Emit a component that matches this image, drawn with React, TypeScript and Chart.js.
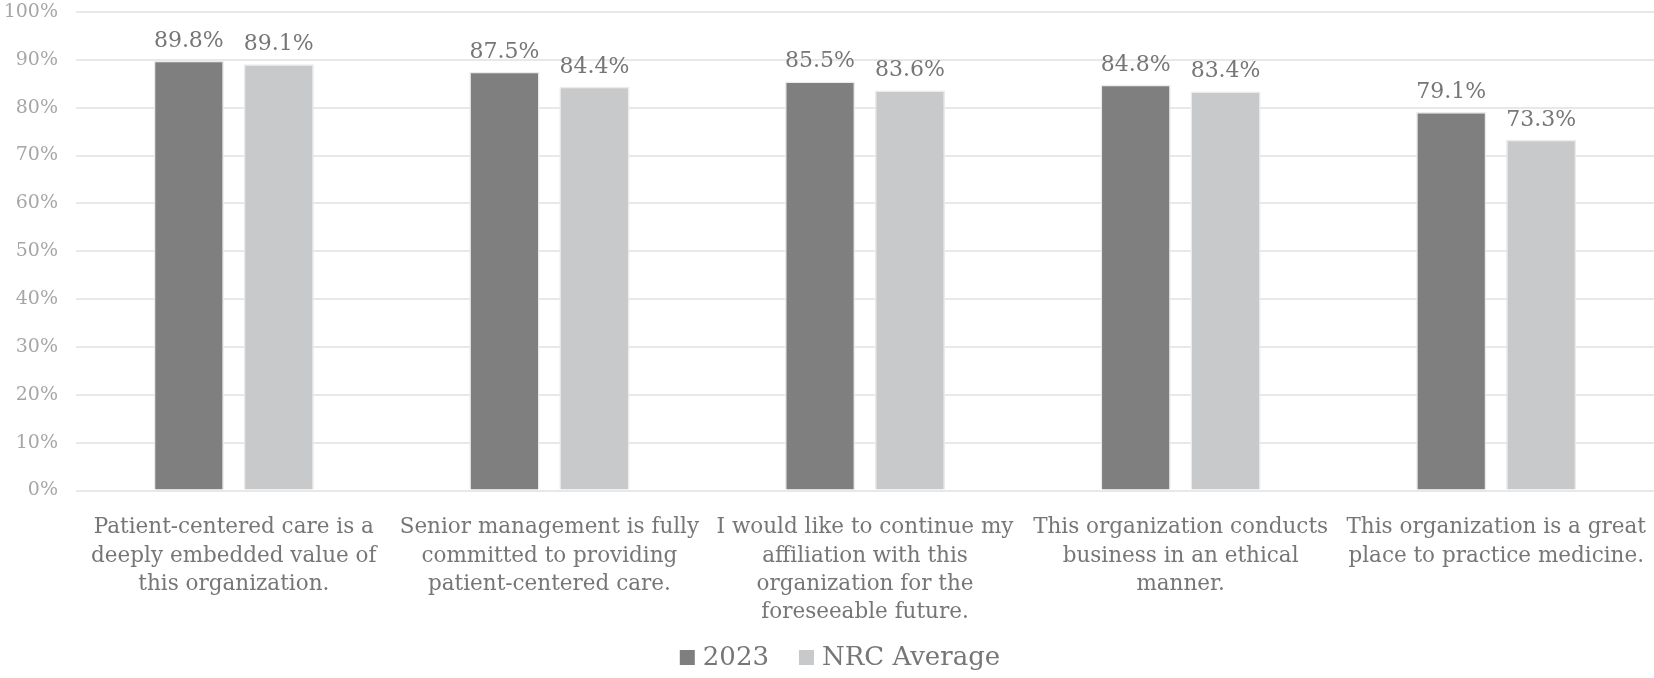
import React, { useEffect, useRef } from "react";
import { Chart, registerables } from "chart.js";

Chart.register(...registerables);

const categories: string[][] = [
  ["Patient-centered care is a", "deeply embedded value of", "this organization."],
  ["Senior management is fully", "committed to providing", "patient-centered care."],
  ["I would like to continue my", "affiliation with this", "organization for the", "foreseeable future."],
  ["This organization conducts", "business in an ethical", "manner."],
  ["This organization is a great", "place to practice medicine."],
];
const values2023: number[] = [89.8, 87.5, 85.5, 84.8, 79.1];
const valuesNRC: number[] = [89.1, 84.4, 83.6, 83.4, 73.3];
const seriesNames: string[] = ["2023", "NRC Average"];
const seriesColors: string[] = ["#7f7f7f", "#c8c9ca"];
const yTicks: number[] = [0, 10, 20, 30, 40, 50, 60, 70, 80, 90, 100];

const FONT = "'DejaVu Serif', 'Liberation Serif', serif";
const TEXT = "#767676";

const dataLabelPlugin = {
  id: "dataLabels",
  afterDatasetsDraw(chart: any) {
    const ctx = chart.ctx;
    ctx.save();
    ctx.font = `22px ${FONT}`;
    ctx.fillStyle = TEXT;
    ctx.textAlign = "center";
    ctx.textBaseline = "alphabetic";
    chart.data.datasets.forEach((ds: any, i: number) => {
      const meta = chart.getDatasetMeta(i);
      meta.data.forEach((bar: any, j: number) => {
        ctx.fillText(ds.data[j].toFixed(1) + "%", bar.x, bar.y - 14);
      });
    });
    ctx.restore();
  },
};

const legendPlugin = {
  id: "customLegend",
  afterDraw(chart: any) {
    const ctx = chart.ctx;
    ctx.save();
    ctx.font = `26px ${FONT}`;
    const box = 15;
    const gap = 8;
    const itemGap = 30;
    const items = chart.data.datasets.map((ds: any) => ({
      label: ds.label,
      color: ds.backgroundColor,
      w: ctx.measureText(ds.label).width,
    }));
    const total =
      items.reduce((s: number, it: any) => s + box + gap + it.w, 0) + itemGap * (items.length - 1);
    let x = chart.width / 2 + 13 - total / 2;
    const baseline = 665;
    items.forEach((it: any) => {
      ctx.fillStyle = it.color;
      ctx.fillRect(x, baseline - box, box, box);
      x += box + gap;
      ctx.fillStyle = TEXT;
      ctx.textAlign = "left";
      ctx.textBaseline = "alphabetic";
      ctx.fillText(it.label, x, baseline);
      x += it.w + itemGap;
    });
    ctx.restore();
  },
};

export default function App() {
  const ref = useRef<HTMLCanvasElement>(null);
  useEffect(() => {
    document.body.style.margin = "0";
    const chart = new Chart(ref.current!, {
      type: "bar",
      data: {
        labels: categories,
        datasets: [0, 1].map((i) => ({
          label: seriesNames[i],
          data: i === 0 ? values2023 : valuesNRC,
          backgroundColor: seriesColors[i],
          borderColor: "#ebebeb",
          borderWidth: 1.5,
          categoryPercentage: 0.57,
          barPercentage: 0.78,
        })),
      },
      options: {
        animation: false,
        responsive: true,
        maintainAspectRatio: false,
        layout: { padding: { left: 0, right: 0, top: 12, bottom: 0 } },
        plugins: {
          tooltip: { enabled: false },
          legend: { display: false },
        },
        scales: {
          x: {
            grid: { display: false },
            border: { display: false },
            afterFit: (axis: any) => {
              axis.height = 187.5;
              axis.paddingLeft = 0;
              axis.paddingRight = 0;
            },
            ticks: {
              maxRotation: 0,
              autoSkip: false,
              color: TEXT,
              padding: 15,
              font: { family: FONT, size: 21.5, lineHeight: 1.316 },
            },
          },
          y: {
            min: 0,
            max: 100,
            afterBuildTicks: (axis: any) => {
              axis.ticks = yTicks.map((v) => ({ value: v }));
            },
            afterFit: (axis: any) => {
              axis.width = 76;
              axis.paddingTop = 0;
              axis.paddingBottom = 0;
            },
            grid: { color: "#e8e8e8", lineWidth: 2, drawTicks: false },
            border: { display: false },
            ticks: {
              color: "#a6a6a6",
              padding: 18,
              font: { family: FONT, size: 19 },
              callback: (v: any) => v + "%",
            },
          },
        },
      },
      plugins: [dataLabelPlugin, legendPlugin],
    });
    return () => chart.destroy();
  }, []);
  return (
    <div style={{ width: 1654, height: 678, position: "relative" }}>
      <canvas ref={ref} />
    </div>
  );
}
